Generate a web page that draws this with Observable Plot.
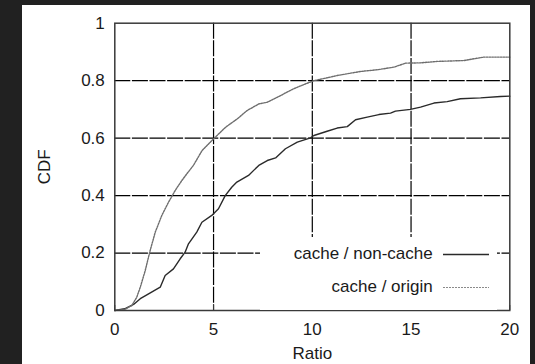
<!DOCTYPE html>
<html>
<head>
<meta charset="utf-8">
<script src="https://cdn.jsdelivr.net/npm/d3@7"></script>
<script src="https://cdn.jsdelivr.net/npm/@observablehq/plot@0.6"></script>
<style>
  html, body { margin: 0; padding: 0; background: #212121; width: 535px; height: 364px; overflow: hidden; }
  #panel { position: absolute; left: 22px; top: 5px; width: 508px; height: 359px; background: #fff; }
  #legend { position: absolute; left: 238px; top: 231.7px; width: 236.7px; height: 73.3px; background: #fff;
            font-family: "Liberation Sans", Arial, sans-serif; font-size: 17px; color: #1a1a1a; }
  .row { position: absolute; right: 7.4px; height: 20px; display: flex; align-items: center; }
  .row span { white-space: nowrap; margin-right: 10px; }
  .row svg { display: block; }
</style>
</head>
<body>
<div id="panel"></div>
<script>
// ---- data ----
const seriesNames = ["cache / non-cache", "cache / origin"];

const nonCacheX = [0, 0.5, 0.95, 1.29, 1.71, 2.30, 2.55, 2.97, 3.31, 3.56, 3.73, 4.15, 4.41, 4.91, 5.25, 5.59, 5.92, 6.18, 6.77, 7.29, 7.72, 8.14, 8.64, 9.24, 9.91, 10.08, 10.75, 11.26, 11.77, 12.19, 12.78, 13.37, 13.96, 14.21, 14.97, 15.48, 16.16, 16.83, 17.5, 18.52, 19.53, 20];
const nonCacheY = [0, 0.006, 0.021, 0.041, 0.058, 0.081, 0.122, 0.145, 0.180, 0.203, 0.232, 0.273, 0.307, 0.331, 0.354, 0.400, 0.429, 0.447, 0.470, 0.505, 0.522, 0.531, 0.563, 0.586, 0.601, 0.609, 0.624, 0.635, 0.640, 0.664, 0.673, 0.682, 0.687, 0.694, 0.700, 0.708, 0.722, 0.727, 0.737, 0.740, 0.745, 0.746];

const originX = [0, 0.5, 0.86, 1.11, 1.29, 1.54, 1.79, 2.05, 2.38, 2.72, 3.06, 3.39, 3.65, 3.98, 4.42, 5.01, 5.61, 6.20, 6.70, 7.29, 7.72, 8.39, 9.06, 9.74, 10.08, 10.75, 11.26, 12.44, 13.29, 14.13, 14.72, 15.48, 16.32, 17.67, 18.68, 19.53, 20];
const originY = [0, 0.004, 0.017, 0.046, 0.081, 0.139, 0.209, 0.273, 0.331, 0.377, 0.418, 0.452, 0.476, 0.505, 0.557, 0.598, 0.638, 0.667, 0.696, 0.719, 0.725, 0.748, 0.772, 0.791, 0.800, 0.810, 0.818, 0.832, 0.838, 0.847, 0.861, 0.862, 0.867, 0.870, 0.882, 0.882, 0.882];

const xTicks = [0, 5, 10, 15, 20];
const yTicks = [0, 0.2, 0.4, 0.6, 0.8, 1];
const yTickLabels = ["0", "0.2", "0.4", "0.6", "0.8", "1"];
const xGridTicks = [5, 10, 15];
const yGridTicks = [0.2, 0.4, 0.6, 0.8];
const xLabel = "Ratio";
const yLabel = "CDF";

// ---- build tables ----
const nonCache = nonCacheX.map((x, i) => ({x, y: nonCacheY[i]}));
const origin = originX.map((x, i) => ({x, y: originY[i]}));

const FONT = "'Liberation Sans', Arial, sans-serif";
const gridStyle = {stroke: "#000", strokeOpacity: 1, strokeWidth: 1.2, strokeDasharray: "16,1.6"};

const chart = Plot.plot({
  width: 508,
  height: 359,
  marginLeft: 92.3,
  marginRight: 20.7,
  marginTop: 17.7,
  marginBottom: 54,
  style: {fontFamily: FONT, fontSize: "17px", color: "#1a1a1a", background: "#fff", overflow: "visible"},
  x: {domain: [0, 20]},
  y: {domain: [0, 1]},
  marks: [
    Plot.gridX({ticks: xGridTicks, ...gridStyle}),
    Plot.gridY({ticks: yGridTicks, ...gridStyle}),
    Plot.line(nonCache, {x: "x", y: "y", stroke: "#2a2a2a", strokeWidth: 1.4}),
    Plot.line(origin, {x: "x", y: "y", stroke: "#6e6e6e", strokeWidth: 1.4, strokeDasharray: "1.6,1.2"}),
    Plot.frame({stroke: "#3a3a3a", strokeWidth: 1.5}),
    Plot.axisX({ticks: xTicks, tickSize: -5, tickFormat: () => "", label: null, stroke: "#3a3a3a"}),
    Plot.axisX({ticks: xTicks, tickSize: 0, tickPadding: 12, label: xLabel, labelAnchor: "center", labelOffset: 48.5, labelArrow: "none"}),
    Plot.axisY({ticks: yTicks, tickSize: 0, tickPadding: 10, tickFormat: (d) => yTickLabels[yTicks.indexOf(d)], label: yLabel, labelAnchor: "center", labelOffset: 76.6, labelArrow: "none"})
  ]
});

const panel = document.getElementById("panel");
panel.appendChild(chart);

// ---- legend, drawn inside the plot area over a white box ----
const legend = document.createElement("div");
legend.id = "legend";
const styles = [
  {stroke: "#2a2a2a", width: 1.3, dash: null},
  {stroke: "#8a8a8a", width: 1.1, dash: "2,1"}
];
const rowCenters = [17.6, 50.6];
seriesNames.forEach((name, i) => {
  const row = document.createElement("div");
  row.className = "row";
  row.style.top = (rowCenters[i] - 10) + "px";
  const span = document.createElement("span");
  span.textContent = name;
  row.appendChild(span);
  const svg = d3.create("svg").attr("width", 46.6).attr("height", 20);
  svg.append("line").attr("x1", 0).attr("x2", 46.6).attr("y1", 10.5).attr("y2", 10.5)
    .attr("stroke", styles[i].stroke).attr("stroke-width", styles[i].width)
    .attr("stroke-dasharray", styles[i].dash);
  row.appendChild(svg.node());
  legend.appendChild(row);
});
panel.appendChild(legend);
</script>
</body>
</html>
